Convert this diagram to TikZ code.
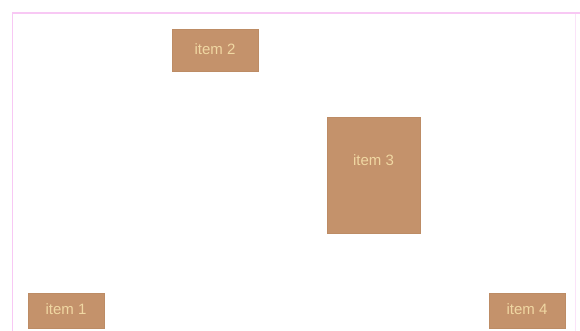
\documentclass[tikz,border=0pt]{standalone}
\usepackage{fontspec}
\setmainfont{Liberation Sans}
\usetikzlibrary{positioning}
\definecolor{itemfill}{HTML}{C4926B}
\definecolor{itemedge}{HTML}{BD8C65}
\definecolor{itemtxt}{HTML}{F0D7A2}
\definecolor{frameline}{HTML}{F8C8F4}
\tikzset{
  itembox/.style={draw=itemedge, fill=itemfill, text=itemtxt, font=\fontsize{15}{17}\selectfont,
    inner sep=0pt, align=center, text depth=2pt},
  itemlbl/.style={text=itemtxt, font=\fontsize{15}{17}\selectfont, inner sep=0pt},
  frame/.style={draw=frameline}
}
\begin{document}
\begin{tikzpicture}[x=1pt, y=-1pt]
  \useasboundingbox[fill=white] (0,0) rectangle (580,331);

  % --- Khung ngoai ---------------------------------------------
  \coordinate (tl) at (12,13);
  \coordinate (tr) at (580,13);
  \coordinate (bl) at (12,331);
  \coordinate (rt) at (575,14);
  \coordinate (rb) at (575,331);
  \draw[frame, line width=2pt] (tl) -- (tr);
  \draw[frame, line width=0.8pt] (tl) -- (bl);
  \draw[frame, line width=0.5pt, opacity=0.5] (rt) -- (rb);

  % --- Cac item -------------------------------------------------
  \node[itembox, minimum width=76, minimum height=35] (it1) at (66,310.5) {item 1};
  \node[itembox, minimum width=86, minimum height=42] (it2) at (215,50) {item 2};
  \node[itembox, minimum width=93, minimum height=116,
    label={[itemlbl, anchor=center, yshift=-43pt]north:item 3}] (it3) at (373.5,175) {};
  \node[itembox, minimum width=76, minimum height=35] (it4) at (527,310.5) {item 4};

\end{tikzpicture}
\end{document}
